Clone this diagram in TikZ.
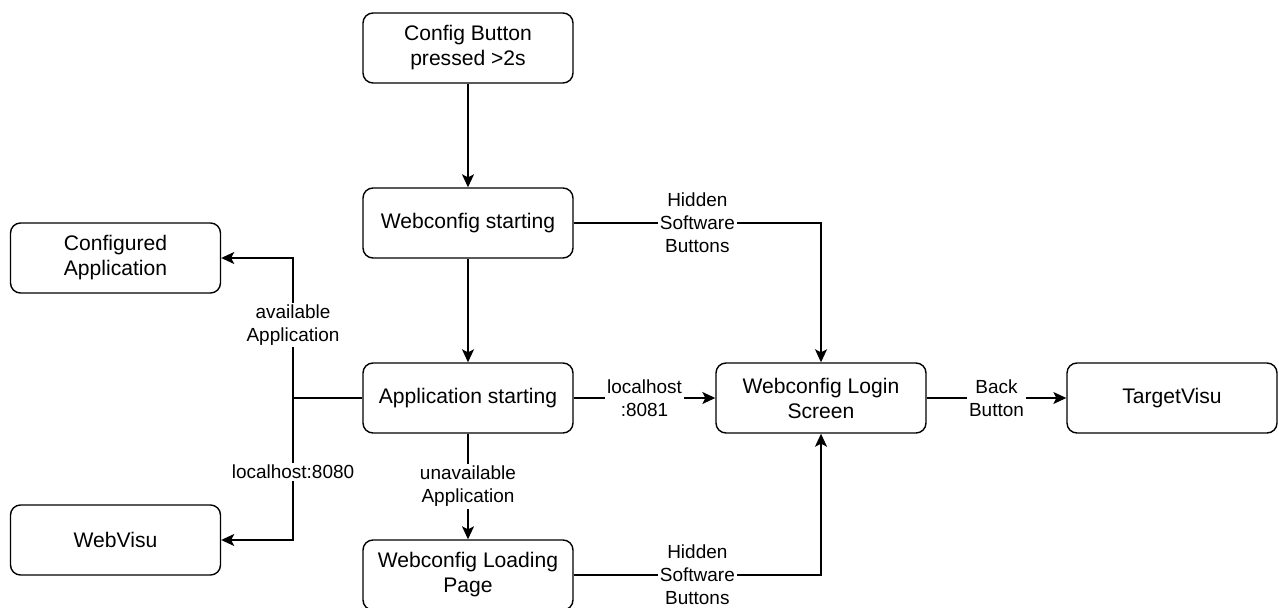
\documentclass[tikz,border=0pt]{standalone}
\usepackage{fontspec}
\setmainfont{Liberation Sans}
\usetikzlibrary{arrows.meta}

\tikzset{
  block/.style={draw, rounded corners=2mm, line width=0.8pt, minimum width=4.2cm,
    minimum height=1.4cm, align=center, font=\fontsize{12}{14.2}\selectfont},
  flow/.style={line width=0.8pt, -{Stealth[length=2.6mm,width=2.4mm,inset=0.6mm]}},
  tag/.style={fill=white, inner sep=1pt, align=center, font=\fontsize{10.8}{13}\selectfont}
}

\begin{document}
\begin{tikzpicture}
    \useasboundingbox (0,0) rectangle (25.58,12.14);
    % states
    \node[block] (cfg) at (9.36,11.18) {Config Button\\pressed >2s};
    \node[block] (wcs) at (9.36,7.68) {Webconfig starting};
    \node[block] (app) at (9.36,4.18) {Application starting};
    \node[block] (login) at (16.42,4.18) {Webconfig Login\\Screen};
    \node[block] (target) at (23.44,4.18) {TargetVisu};
    \node[block] (confapp) at (2.31,6.98) {Configured\\Application};
    \node[block] (webvisu) at (2.31,1.34) {WebVisu};
    \node[block] (loading) at (9.36,0.64) {Webconfig Loading\\Page};
    \coordinate (split) at (5.86,4.18);
    % transitions
    \draw[flow] (cfg) -- (wcs);
    \draw[flow] (wcs) -- (app);
    \draw[flow] (wcs.east) -| node[tag,pos=0.25] {Hidden\\Software\\Buttons} (login.north);
    \draw[flow] (app) -- node[tag] {localhost\\:8081} (login);
    \draw[flow] (login) -- node[tag] {Back\\Button} (target);
    \draw[flow] (app) -- node[tag] {unavailable\\Application} (loading);
    \draw[flow] (loading.east) -| node[tag,pos=0.25] {Hidden\\Software\\Buttons} (login.south);
    \draw[line width=0.8pt] (app.west) -- (split);
    \draw[flow] (split) |- node[tag,pos=0.26] {available\\Application} (confapp.east);
    \draw[flow] (split) |- node[tag,pos=0.26] {localhost:8080} (webvisu.east);
\end{tikzpicture}
\end{document}
